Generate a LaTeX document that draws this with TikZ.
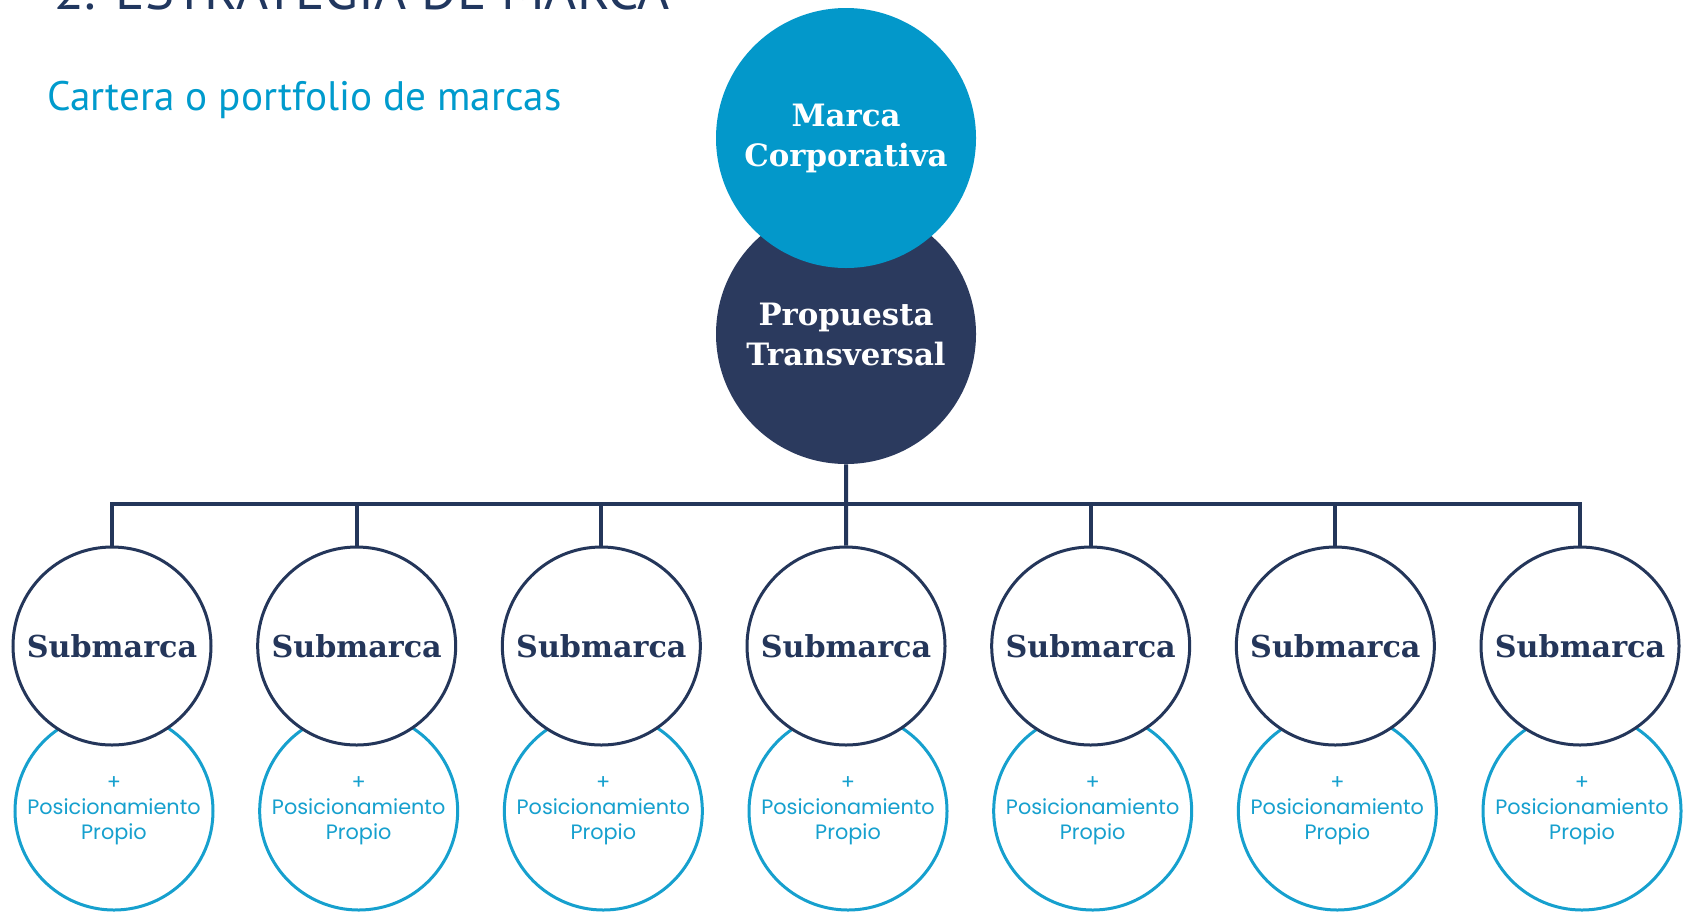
\documentclass[tikz,border=0pt]{standalone}
\usepackage{fontspec}
\setmainfont{DejaVu Serif}
\newfontfamily\subfont{PT Sans}
\newfontfamily\posfont{Poppins}
\definecolor{cyanc}{RGB}{3,152,202}
\definecolor{darkc}{RGB}{43,58,94}
\definecolor{navyc}{RGB}{36,54,90}
\definecolor{posc}{RGB}{22,160,206}
\definecolor{subc}{RGB}{0,155,205}
\definecolor{titlec}{RGB}{33,55,95}
\tikzset{
  topc/.style={circle, inner sep=0pt, minimum size=130pt, text=white, align=center,
    font=\bfseries\fontsize{15.4}{20}\selectfont},
  subcirc/.style={circle, inner sep=0pt, minimum size=99pt, draw=navyc, line width=1.5pt,
    fill=white, text=navyc, font=\bfseries\fontsize{15.1}{18}\selectfont},
  poscirc/.style={circle, inner sep=0pt, minimum size=99pt, draw=posc, line width=1.5pt,
    fill=white, text=posc, align=center, font=\posfont\fontsize{10.4}{12.5}\selectfont},
  busline/.style={draw=navyc, line width=2pt},
}
\begin{document}
\begin{tikzpicture}[x=0.5pt,y=-0.5pt]
\useasboundingbox (0,0) rectangle (1689,911);
\clip (0,0) rectangle (1689,911);
\fill[white] (0,0) rectangle (1689,911);
% titles
\node[anchor=base west, inner sep=0pt, text=titlec, font=\subfont\fontsize{27.5}{30}\selectfont] (title) at (54,9) {2. ESTRATEGIA DE MARCA};
\node[anchor=base west, inner sep=0pt, text=subc, font=\subfont\fontsize{20.6}{24}\selectfont] (subtitle) at (47,110) {Cartera o portfolio de marcas};
% top circles
\node[topc, fill=darkc] (pt) at (846,334) {Propuesta\\Transversal};
\node[topc, fill=cyanc] (mc) at (846,138) {Marca\\Corporativa};
% bottom circles
\foreach \i in {1,...,7} {
  \pgfmathsetmacro\xx{112+244.667*(\i-1)}
  \node[poscirc] (p\i) at (\xx+2,811) {+\\Posicionamiento\\Propio};
  \node[subcirc] (s\i) at (\xx,646) {Submarca};
}
% connectors
\coordinate (bus) at (846,504);
\draw[busline] (pt.south) -- (s4.north);
\foreach \i in {1,2,3,5,6,7} {
  \draw[busline] (s\i.north) -- (s\i.north |- bus);
}
\draw[busline] ([xshift=-1pt]s1.north |- bus) -- ([xshift=1pt]s7.north |- bus);
\end{tikzpicture}
\end{document}
